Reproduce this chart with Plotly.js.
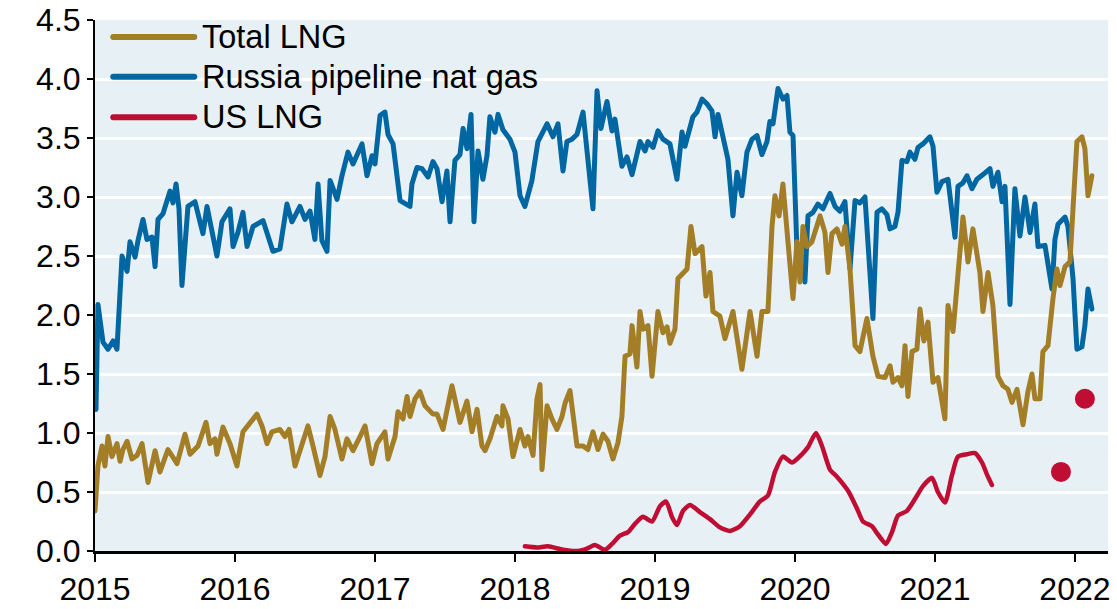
<!DOCTYPE html>
<html>
<head>
<meta charset="utf-8">
<script src="https://cdn.plot.ly/plotly-3.0.1.min.js"></script>
<style>
  html, body { margin: 0; padding: 0; background: #ffffff; }
  #chart { width: 1117px; height: 609px; }
  .scatterlayer .js-line { stroke-linejoin: round; stroke-linecap: round; }
  .shapelayer path { stroke-linecap: round; }
</style>
</head>
<body>
<div id="chart"></div>
<script>
// ---- Data (decimal years) ----
const yearTicks = [2015, 2016, 2017, 2018, 2019, 2020, 2021, 2022];
const yearLabels = ["2015", "2016", "2017", "2018", "2019", "2020", "2021", "2022"];
const valueTicks = [0, 0.5, 1, 1.5, 2, 2.5, 3, 3.5, 4, 4.5];
const valueLabels = ["0.0", "0.5", "1.0", "1.5", "2.0", "2.5", "3.0", "3.5", "4.0", "4.5"];

const seriesNames = ["Total LNG", "Russia pipeline nat gas", "US LNG"];
const seriesColors = ["#a47e26", "#0067a3", "#c00d33"];

const russiaX = [
  2015.007, 2015.021, 2015.057, 2015.093, 2015.129, 2015.157, 2015.193, 2015.229, 2015.25, 2015.286,
  2015.307, 2015.343, 2015.371, 2015.407, 2015.429, 2015.45, 2015.486, 2015.521, 2015.536, 2015.557,
  2015.579, 2015.6, 2015.621, 2015.664, 2015.714, 2015.771, 2015.8, 2015.871, 2015.907, 2015.964,
  2015.986, 2016.021, 2016.057, 2016.086, 2016.129, 2016.2, 2016.271, 2016.321, 2016.371, 2016.407,
  2016.464, 2016.5, 2016.536, 2016.571, 2016.593, 2016.621, 2016.657, 2016.679, 2016.729, 2016.764,
  2016.807, 2016.843, 2016.907, 2016.943, 2016.979, 2017.0, 2017.036, 2017.071, 2017.093, 2017.129,
  2017.179, 2017.25, 2017.264, 2017.3, 2017.336, 2017.379, 2017.414, 2017.443, 2017.479, 2017.514,
  2017.536, 2017.571, 2017.607, 2017.629, 2017.657, 2017.686, 2017.707, 2017.736, 2017.771, 2017.8,
  2017.821, 2017.857, 2017.879, 2017.914, 2017.964, 2018.0, 2018.036, 2018.071, 2018.121, 2018.164,
  2018.229, 2018.271, 2018.307, 2018.343, 2018.371, 2018.407, 2018.443, 2018.486, 2018.514, 2018.557,
  2018.586, 2018.614, 2018.657, 2018.693, 2018.714, 2018.764, 2018.8, 2018.836, 2018.893, 2018.929,
  2018.95, 2018.986, 2019.021, 2019.057, 2019.107, 2019.157, 2019.193, 2019.214, 2019.271, 2019.3,
  2019.336, 2019.371, 2019.407, 2019.429, 2019.45, 2019.486, 2019.521, 2019.557, 2019.586, 2019.621,
  2019.657, 2019.693, 2019.729, 2019.764, 2019.8, 2019.821, 2019.843, 2019.879, 2019.914, 2019.943,
  2019.964, 2019.986, 2020.014, 2020.05, 2020.071, 2020.093, 2020.129, 2020.164, 2020.2, 2020.25,
  2020.286, 2020.321, 2020.357, 2020.393, 2020.429, 2020.464, 2020.5, 2020.557, 2020.586, 2020.621,
  2020.657, 2020.679, 2020.714, 2020.736, 2020.764, 2020.8, 2020.821, 2020.857, 2020.879, 2020.914,
  2020.964, 2020.986, 2021.014, 2021.05, 2021.093, 2021.143, 2021.164, 2021.2, 2021.229, 2021.264,
  2021.3, 2021.343, 2021.393, 2021.414, 2021.45, 2021.479, 2021.5, 2021.536, 2021.571, 2021.607,
  2021.643, 2021.679, 2021.714, 2021.736, 2021.786, 2021.836, 2021.857, 2021.879, 2021.929, 2021.95,
  2021.986, 2022.014, 2022.05, 2022.071, 2022.093, 2022.121
];
const russiaY = [
  1.2, 2.09, 1.77, 1.71, 1.78, 1.71, 2.5, 2.37, 2.62, 2.49,
  2.63, 2.81, 2.64, 2.66, 2.41, 2.81, 2.86, 2.98, 3.05, 2.95,
  3.11, 2.9, 2.25, 2.92, 2.96, 2.69, 2.92, 2.5, 2.79, 2.9,
  2.58, 2.7, 2.87, 2.58, 2.75, 2.8, 2.54, 2.56, 2.94, 2.79,
  2.92, 2.81, 2.88, 2.64, 3.11, 2.63, 2.54, 3.14, 2.98, 3.18,
  3.38, 3.28, 3.45, 3.18, 3.35, 3.28, 3.69, 3.72, 3.53, 3.45,
  2.97, 2.92, 3.11, 3.25, 3.24, 3.17, 3.3, 3.24, 2.96, 3.22,
  2.79, 3.31, 3.36, 3.58, 3.41, 3.7, 2.79, 3.39, 3.15, 3.35,
  3.68, 3.55, 3.7, 3.57, 3.49, 3.38, 3.01, 2.92, 3.14, 3.47,
  3.62, 3.51, 3.62, 3.22, 3.47, 3.49, 3.53, 3.72, 3.43, 2.9,
  3.9, 3.58, 3.81, 3.56, 3.66, 3.26, 3.34, 3.19, 3.47, 3.39,
  3.47, 3.42, 3.56, 3.49, 3.45, 3.15, 3.55, 3.43, 3.68, 3.72,
  3.83, 3.79, 3.73, 3.51, 3.7, 3.49, 3.32, 2.84, 3.21, 3.01,
  3.38, 3.49, 3.52, 3.36, 3.47, 3.64, 3.62, 3.92, 3.83, 3.86,
  3.55, 3.52, 2.56, 2.53, 2.28, 2.84, 2.87, 2.94, 2.9, 3.03,
  2.92, 2.88, 2.96, 2.39, 2.97, 2.95, 3.0, 1.97, 2.87, 2.9,
  2.85, 2.73, 2.75, 2.87, 3.31, 3.3, 3.38, 3.32, 3.42, 3.45,
  3.51, 3.43, 3.04, 3.13, 3.15, 2.66, 3.09, 3.12, 3.18, 3.07,
  3.15, 3.19, 3.24, 3.09, 3.21, 2.96, 3.09, 2.09, 3.07, 2.67,
  3.0, 2.7, 2.94, 2.58, 2.59, 2.22, 2.64, 2.77, 2.83, 2.75,
  2.31, 1.71, 1.73, 1.91, 2.22, 2.05
];

const lngX = [
  2015.0, 2015.021, 2015.05, 2015.071, 2015.093, 2015.121, 2015.157, 2015.179, 2015.2, 2015.229,
  2015.264, 2015.3, 2015.336, 2015.379, 2015.429, 2015.464, 2015.521, 2015.586, 2015.643, 2015.679,
  2015.736, 2015.793, 2015.821, 2015.857, 2015.871, 2015.914, 2015.964, 2016.014, 2016.057, 2016.107,
  2016.157, 2016.193, 2016.229, 2016.264, 2016.321, 2016.357, 2016.386, 2016.429, 2016.464, 2016.521,
  2016.557, 2016.607, 2016.643, 2016.679, 2016.714, 2016.764, 2016.8, 2016.843, 2016.893, 2016.929,
  2016.979, 2017.014, 2017.071, 2017.093, 2017.143, 2017.164, 2017.2, 2017.229, 2017.25, 2017.286,
  2017.321, 2017.357, 2017.414, 2017.443, 2017.486, 2017.55, 2017.607, 2017.657, 2017.693, 2017.729,
  2017.764, 2017.786, 2017.821, 2017.871, 2017.907, 2017.914, 2017.95, 2017.986, 2018.036, 2018.071,
  2018.093, 2018.129, 2018.157, 2018.179, 2018.193, 2018.229, 2018.264, 2018.3, 2018.336, 2018.357,
  2018.393, 2018.443, 2018.486, 2018.521, 2018.557, 2018.593, 2018.629, 2018.664, 2018.7, 2018.736,
  2018.764, 2018.786, 2018.821, 2018.836, 2018.871, 2018.893, 2018.914, 2018.95, 2018.979, 2019.021,
  2019.057, 2019.086, 2019.107, 2019.143, 2019.164, 2019.193, 2019.229, 2019.257, 2019.286, 2019.336,
  2019.364, 2019.393, 2019.414, 2019.464, 2019.5, 2019.557, 2019.621, 2019.679, 2019.729, 2019.764,
  2019.807, 2019.836, 2019.857, 2019.886, 2019.914, 2019.95, 2019.986, 2020.014, 2020.036, 2020.057,
  2020.086, 2020.121, 2020.179, 2020.214, 2020.236, 2020.264, 2020.3, 2020.336, 2020.357, 2020.393,
  2020.429, 2020.464, 2020.514, 2020.557, 2020.593, 2020.643, 2020.679, 2020.7, 2020.736, 2020.764,
  2020.786, 2020.807, 2020.836, 2020.871, 2020.893, 2020.921, 2020.95, 2020.986, 2021.021, 2021.071,
  2021.093, 2021.129, 2021.164, 2021.2, 2021.236, 2021.271, 2021.321, 2021.343, 2021.379, 2021.414,
  2021.45, 2021.486, 2021.521, 2021.55, 2021.586, 2021.629, 2021.664, 2021.693, 2021.714, 2021.75,
  2021.771, 2021.807, 2021.843, 2021.871, 2021.893, 2021.929, 2021.964, 2022.014, 2022.05, 2022.071,
  2022.093, 2022.121
];
const lngY = [
  0.34, 0.72, 0.89, 0.72, 0.97, 0.8, 0.91, 0.76, 0.86, 0.93,
  0.78, 0.81, 0.91, 0.58, 0.85, 0.67, 0.86, 0.74, 0.99, 0.82,
  0.89, 1.09, 0.91, 0.95, 0.82, 1.05, 0.91, 0.72, 1.01, 1.09,
  1.16, 1.06, 0.91, 1.01, 1.03, 0.97, 1.03, 0.72, 0.84, 1.06,
  0.89, 0.64, 0.8, 1.14, 1.03, 0.78, 0.95, 0.85, 0.97, 1.06,
  0.74, 0.91, 1.01, 0.78, 0.97, 1.18, 1.12, 1.31, 1.14, 1.29,
  1.35, 1.23, 1.16, 1.16, 1.03, 1.4, 1.09, 1.27, 1.01, 1.2,
  0.89, 0.85, 0.95, 1.14, 1.06, 1.23, 1.12, 0.8, 1.03, 0.89,
  0.97, 0.81, 1.29, 1.41, 0.69, 1.23, 1.12, 1.03, 1.14, 1.25,
  1.36, 0.89, 0.89, 0.86, 1.01, 0.86, 0.99, 0.93, 0.78, 0.92,
  1.14, 1.65, 1.67, 1.91, 1.56, 2.03, 1.88, 1.91, 1.48, 2.03,
  1.85, 1.9, 1.76, 1.88, 2.31, 2.35, 2.39, 2.75, 2.52, 2.58,
  2.16, 2.36, 2.03, 1.99, 1.8, 2.03, 1.54, 2.03, 1.65, 2.03,
  2.03, 2.75, 3.01, 2.84, 3.11, 2.62, 2.14, 2.62, 2.28, 2.75,
  2.58, 2.62, 2.84, 2.7, 2.36, 2.69, 2.73, 2.6, 2.75, 2.39,
  1.74, 1.69, 1.97, 1.65, 1.48, 1.47, 1.57, 1.43, 1.47, 1.4,
  1.74, 1.31, 1.69, 1.71, 2.05, 1.78, 1.94, 1.43, 1.47, 1.12,
  2.08, 1.86, 2.33, 2.83, 2.45, 2.73, 2.36, 2.03, 2.36, 2.08,
  1.48, 1.4, 1.37, 1.26, 1.37, 1.07, 1.35, 1.5, 1.29, 1.29,
  1.69, 1.74, 2.14, 2.39, 2.25, 2.41, 2.45, 3.47, 3.51, 3.41,
  3.01, 3.18
];

const usX = [
  2018.071, 2018.157, 2018.236, 2018.343, 2018.45, 2018.514, 2018.571, 2018.643, 2018.693, 2018.75,
  2018.807, 2018.857, 2018.914, 2018.979, 2019.036, 2019.079, 2019.121, 2019.157, 2019.2, 2019.25,
  2019.321, 2019.393, 2019.464, 2019.536, 2019.607, 2019.679, 2019.75, 2019.807, 2019.857, 2019.914,
  2019.979, 2020.05, 2020.093, 2020.15, 2020.193, 2020.25, 2020.3, 2020.379, 2020.443, 2020.486,
  2020.55, 2020.593, 2020.65, 2020.693, 2020.736, 2020.8, 2020.857, 2020.914, 2020.979, 2021.021,
  2021.071, 2021.121, 2021.164, 2021.229, 2021.286, 2021.336, 2021.371, 2021.407
];
const usY = [
  0.04, 0.03, 0.04, 0.01, 0.0, 0.02, 0.05, 0.01, 0.06, 0.13,
  0.16, 0.23, 0.29, 0.25, 0.38, 0.42, 0.29, 0.22, 0.34, 0.39,
  0.33, 0.27, 0.2, 0.17, 0.21, 0.31, 0.42, 0.47, 0.67, 0.8,
  0.75, 0.82, 0.88, 1.0, 0.89, 0.69, 0.63, 0.51, 0.36, 0.25,
  0.21, 0.14, 0.06, 0.16, 0.3, 0.34, 0.44, 0.55, 0.62, 0.5,
  0.41, 0.64, 0.8, 0.82, 0.83, 0.75, 0.65, 0.56
];
const usDotX = [2021.9, 2022.071];
const usDotY = [0.67, 1.29];

// ---- Chart ----
const fontFamily = '"Liberation Sans", Arial, sans-serif';

const traces = [
  { x: russiaX, y: russiaY, name: seriesNames[1], type: 'scatter', mode: 'lines',
    line: { color: seriesColors[1], width: 5 }, hoverinfo: 'skip' },
  { x: lngX, y: lngY, name: seriesNames[0], type: 'scatter', mode: 'lines',
    line: { color: seriesColors[0], width: 5 }, hoverinfo: 'skip' },
  { x: usX, y: usY, name: seriesNames[2], type: 'scatter', mode: 'lines',
    line: { color: seriesColors[2], width: 4.5, shape: 'spline', smoothing: 0.6 }, hoverinfo: 'skip' },
  { x: usDotX, y: usDotY, name: seriesNames[2], type: 'scatter', mode: 'markers',
    marker: { color: seriesColors[2], size: 20 }, hoverinfo: 'skip', cliponaxis: false }
];

// custom legend (line sample + label) drawn in paper coordinates
const legendRows = [0.968, 0.893, 0.817];
const shapes = [];
const annotations = [];
seriesNames.forEach((name, i) => {
  shapes.push({ type: 'line', xref: 'paper', yref: 'paper', layer: 'above',
    x0: 0.018, x1: 0.098, y0: legendRows[i], y1: legendRows[i],
    line: { color: seriesColors[i], width: 6 } });
  annotations.push({ xref: 'paper', yref: 'paper', x: 0.104, y: legendRows[i],
    xanchor: 'left', yanchor: 'middle', showarrow: false, text: name,
    font: { family: fontFamily, size: 32.5, color: '#000000' } });
});

const layout = {
  width: 1117, height: 609,
  margin: { l: 95, r: 9, t: 20, b: 58, pad: 0 },
  paper_bgcolor: '#ffffff',
  plot_bgcolor: '#e7f0f4',
  showlegend: false,
  font: { family: fontFamily, size: 32, color: '#000000' },
  xaxis: {
    range: [2015, 2022.236], tickvals: yearTicks, ticktext: yearLabels,
    ticks: 'outside', ticklen: 8, tickwidth: 2, tickcolor: '#000000',
    showline: true, linecolor: '#000000', linewidth: 2.5,
    showgrid: false, zeroline: false, automargin: false,
    tickfont: { family: fontFamily, size: 32, color: '#000000' }
  },
  yaxis: {
    range: [0, 4.5], tickvals: valueTicks, ticktext: valueLabels,
    ticks: 'outside', ticklen: 6, tickwidth: 2, tickcolor: '#000000',
    showline: true, linecolor: '#000000', linewidth: 2,
    showgrid: true, gridcolor: '#ffffff', gridwidth: 3,
    zeroline: false, automargin: false,
    tickfont: { family: fontFamily, size: 32, color: '#000000' }
  },
  shapes: shapes,
  annotations: annotations
};

Plotly.newPlot('chart', traces, layout, { staticPlot: true, displayModeBar: false });
</script>
</body>
</html>
